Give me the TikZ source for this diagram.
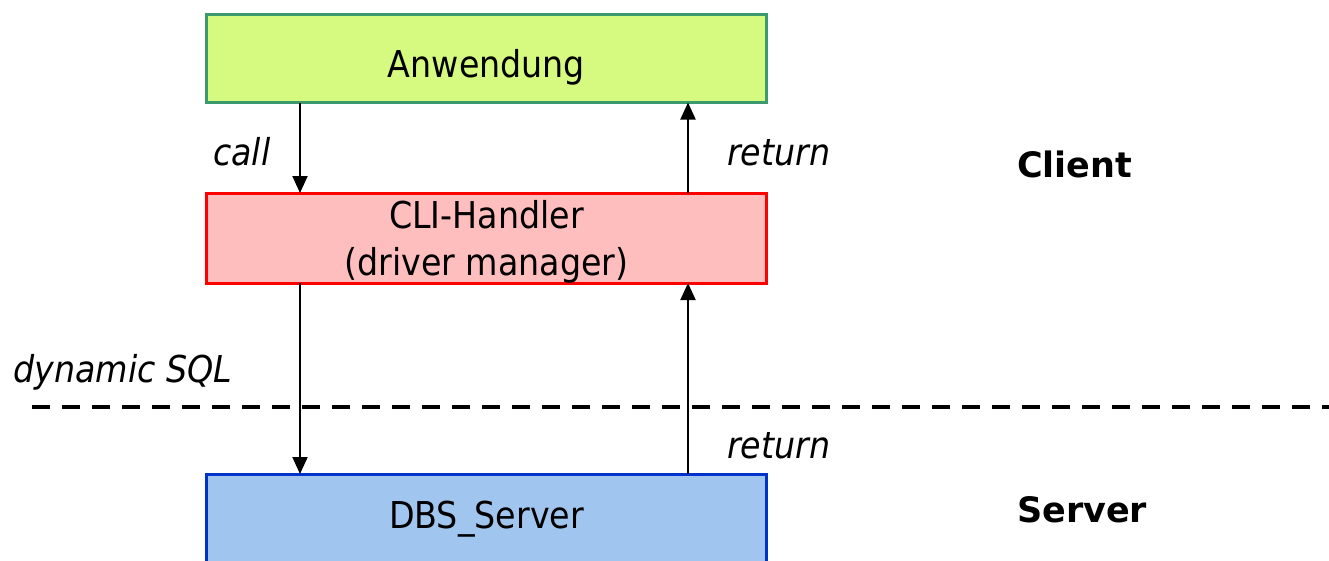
\documentclass[tikz,border=0pt]{standalone}
\usepackage{fontspec}
\setmainfont[FakeStretch=0.9]{DejaVu Sans}
\newfontfamily\boldfam{DejaVu Sans}
\usetikzlibrary{arrows.meta}
\definecolor{appfill}{RGB}{214,250,128}
\definecolor{appline}{RGB}{60,155,110}
\definecolor{clifill}{RGB}{255,190,190}
\definecolor{cliline}{RGB}{255,0,0}
\definecolor{dbsfill}{RGB}{160,197,238}
\definecolor{dbsline}{RGB}{0,51,204}
\begin{document}
\begin{tikzpicture}[x=1pt,y=1pt,
  box/.style={draw, line width=3pt, minimum width=560pt, inner sep=0pt, outer sep=0pt},
  lbl/.style={anchor=base, inner sep=0pt, font=\fontsize{37}{44}\selectfont},
  ilbl/.style={anchor=base west, inner sep=0pt, font=\fontsize{37}{44}\selectfont\itshape},
  blbl/.style={anchor=base west, inner sep=0pt, font=\boldfam\fontsize{35}{42}\selectfont\bfseries},
  arr/.style={line width=2pt, -{Triangle[length=17pt,width=15pt]}},
  sep/.style={line width=4pt, dash pattern=on 18pt off 12pt},
]
\useasboundingbox (0,0) rectangle (1329,-560);
% boxes
\node[box, fill=appfill, draw=appline, minimum height=88pt] (app) at (486.5,-58.5) {};
\node[box, fill=clifill, draw=cliline, minimum height=90pt] (cli) at (486.5,-238) {};
\node[box, fill=dbsfill, draw=dbsline, minimum height=126pt] (dbs) at (486.5,-537) {};
% texts in boxes
\node[lbl] (tapp) at (486.5,-77) {Anwendung};
\node[lbl] (tcli1) at (486.5,-228) {CLI-Handler};
\node[lbl] (tcli2) at (486.5,-275) {(driver manager)};
\node[lbl] (tdbs) at (486.5,-528) {DBS\_Server};
% separator
\coordinate (sl) at (32,-407);
\coordinate (sr) at (1329,-407);
\draw[sep] (sl) -- (sr);
% arrows
\draw[arr] ([xshift=-186.5pt]app.south) -- ([xshift=-186.5pt]cli.north);
\draw[arr] ([xshift=201.5pt]cli.north) -- ([xshift=201.5pt]app.south);
\draw[arr] ([xshift=-186.5pt]cli.south) -- ([xshift=-186.5pt]dbs.north);
\draw[arr] ([xshift=201.5pt]dbs.north) -- ([xshift=201.5pt]cli.south);
% labels
\node[ilbl] (lcall) at (213,-165) {call};
\node[ilbl] (lret1) at (727,-165) {return};
\node[ilbl] (ldyn) at (13,-382) {dynamic SQL};
\node[ilbl] (lret2) at (727,-458) {return};
\node[blbl] (lclient) at (1017,-177) {Client};
\node[blbl] (lserver) at (1017,-522) {Server};
\end{tikzpicture}
\end{document}
